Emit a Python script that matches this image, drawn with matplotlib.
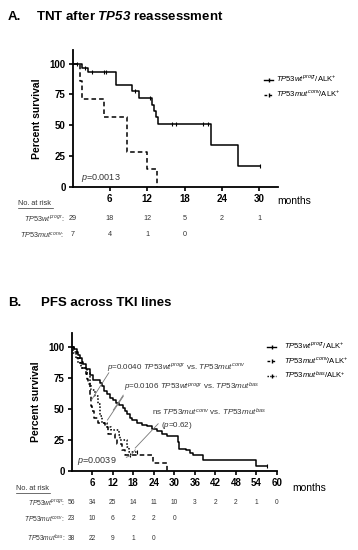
"""Kaplan-Meier curves: TNT after TP53 reassessment and PFS across TKI lines."""
import matplotlib
matplotlib.use("Agg")
import matplotlib.pyplot as plt
import matplotlib.transforms as mtransforms
from matplotlib.lines import Line2D

plt.rcParams['font.family'] = ['Liberation Sans', 'DejaVu Sans']
plt.rcParams['mathtext.fontset'] = 'custom'
plt.rcParams['mathtext.rm'] = 'Liberation Sans'
plt.rcParams['mathtext.it'] = 'Liberation Sans:italic'
plt.rcParams['mathtext.bf'] = 'Liberation Sans:bold'
plt.rcParams['mathtext.bfit'] = 'Liberation Sans:italic:bold'

# ---- panel A data (months, percent survival) ----
a_wt_t = [0, 1.5, 2.5, 7.0, 9.6, 10.7, 12.7, 13.1, 13.4, 13.7, 22.3, 26.6, 30.1]
a_wt_s = [100, 96.5, 93.0, 82.6, 77.4, 72.0, 66.8, 61.6, 56.4, 51.2, 34.1, 17.1, 17.1]
a_wt_cens_t = [0.8, 2.0, 3.2, 5.0, 5.4, 10.0, 12.5, 16.0, 16.7, 21.0, 21.7, 30.1]
a_wt_cens_s = [100, 96.5, 93.0, 93.0, 93.0, 77.4, 72.0, 51.2, 51.2, 51.2, 51.2, 17.1]
a_mut_t = [0, 1.2, 1.6, 5.0, 8.8, 11.9, 13.6]
a_mut_s = [100, 85.7, 71.4, 57.1, 28.6, 14.3, 0]
a_risk_months = [0, 6, 12, 18, 24, 30]
a_risk_wt = [29, 18, 12, 5, 2, 1]
a_risk_mut = [7, 4, 1, 0]

# ---- panel B data ----
b_wt_t = [0, 0.8, 1.5, 2.0, 2.5, 3.0, 3.5, 4.2, 5.5, 6.3, 8.2, 8.8, 9.5, 10.5,
          11.2, 12.0, 13.0, 13.8, 15.0, 15.6, 16.3, 17.0, 17.6, 19.0, 20.5,
          22.0, 23.5, 25.0, 26.5, 28.0, 31.0, 31.5, 33.5, 34.7, 35.6, 38.5,
          54.0, 57.0]
b_wt_s = [100, 98, 96, 93, 91, 88, 86, 82, 77, 73, 71, 68, 64, 62, 59, 57, 55,
          53, 51, 48, 46, 43, 41, 39, 37, 36, 34, 32, 30, 28, 23.5, 18, 16.5,
          14.3, 12.5, 8.5, 4.3, 4.3]
b_conv_t = [0, 0.7, 1.7, 2.4, 3.1, 4.1, 4.5, 4.8, 5.3, 5.6, 6.0, 6.5, 7.8,
            9.8, 10.6, 12.8, 13.3, 14.8, 15.7, 23.8, 27.9]
b_conv_s = [100, 96, 91, 87, 83, 78, 74, 70, 61, 52, 48, 43, 39, 35, 30, 26,
            22, 17, 13, 6.5, 0]
b_bas_t = [0, 0.5, 1.2, 2.0, 2.9, 4.4, 5.3, 5.8, 6.8, 7.8, 8.4, 8.9, 10.4,
           11.4, 13.8, 14.3, 16.2, 16.7, 19.0]
b_bas_s = [100, 95, 91, 87, 83, 79, 69, 65, 60, 54, 44, 38.5, 35.7, 33, 29,
           25, 19.6, 15.6, 15.6]
b_risk_months = [0, 6, 12, 18, 24, 30, 36, 42, 48, 54, 60]
b_risk_wt = [56, 34, 25, 14, 11, 10, 3, 2, 2, 1, 0]
b_risk_conv = [23, 10, 6, 2, 2, 0]
b_risk_bas = [38, 22, 9, 1, 0]

W, H = 358, 550
fig = plt.figure(figsize=(W / 100, H / 100), dpi=100)


def fx(x):
    return x / W


def fy(y):
    return 1 - y / H


def style_axes(ax, xmax, xticks):
    ax.set_xlim(0, xmax)
    ax.set_ylim(0, 111)
    ax.set_yticks([0, 25, 50, 75, 100])
    ax.set_xticks(xticks)
    for s in ('top', 'right'):
        ax.spines[s].set_visible(False)
    for s in ('left', 'bottom'):
        ax.spines[s].set_linewidth(1.3)
    ax.tick_params(width=1.2, length=3, labelsize=7, pad=2)
    for lab in ax.get_xticklabels() + ax.get_yticklabels():
        lab.set_fontweight('bold')
    ax.set_ylabel('Percent survival', fontsize=7.5, fontweight='bold')
    ax.yaxis.set_label_coords(-0.15, 0.5)
    ax.patch.set_alpha(0)


def risk_row(ax, y, label, values, months, size, xr):
    tr = mtransforms.blended_transform_factory(ax.transData, fig.transFigure)
    fig.text(fx(xr), fy(y), label, ha='right', va='center', fontsize=size,
             color='#333333')
    for m, v in zip(months, values):
        ax.text(m, fy(y), str(v), transform=tr, ha='center', va='center',
                fontsize=size, color='#333333', clip_on=False)


def no_at_risk(y, x0, x1):
    fig.text(fx(x0), fy(y), 'No. at risk', ha='left', va='center', fontsize=5.3,
             color='#333333')
    fig.add_artist(Line2D([fx(x0), fx(x1)], [fy(y + 4), fy(y + 4)],
                          color='#333333', lw=0.5))


# ================= Panel A =================
fig.text(fx(8), fy(17), 'A.', fontsize=9.5, fontweight='bold', va='center')
fig.text(fx(36), fy(17), r'TNT after $\mathbfit{TP53}$ reassessment',
         fontsize=9.5, fontweight='bold', va='center')

axA = fig.add_axes([fx(72.5), fy(187), (278 - 72.5) / W, 137 / H])
axA.step(a_wt_t, a_wt_s, where='post', color='black', lw=1.1)
axA.plot(a_wt_cens_t, a_wt_cens_s, ls='none', marker='|', ms=3, mew=0.8,
         color='black')
axA.step(a_mut_t, a_mut_s, where='post', color='black', lw=1.1,
         ls=(0, (3, 2)))
style_axes(axA, 33, [6, 12, 18, 24, 30])
axA.text(1.3, 7, r'$p$=0.0013', fontsize=6.5, ha='left', va='center',
         color='#333333')
fig.text(fx(277), fy(201), 'months', fontsize=7.5, va='center')

hA = [Line2D([], [], color='black', lw=1, marker='|', ms=3),
      Line2D([], [], color='black', lw=1, ls=(0, (2, 1.5)), marker='|', ms=3)]
labA = [r'$\it{TP53wt}^{progr}$/ALK$^{+}$', r'$\it{TP53mut}^{conv}$/ALK$^{+}$']
axA.legend(hA, labA, loc='upper left', bbox_to_anchor=(fx(264), fy(74)),
           bbox_transform=fig.transFigure, frameon=False, fontsize=5.5,
           handlelength=1.2, handletextpad=0.4, labelspacing=0.6,
           borderaxespad=0, borderpad=0, numpoints=1)

no_at_risk(204, 18, 53)
risk_row(axA, 219, r'$\it{TP53wt}^{progr}$:', a_risk_wt, a_risk_months, 5.2, 64)
risk_row(axA, 235, r'$\it{TP53mut}^{conv}$:', a_risk_mut, a_risk_months, 5.2, 64)

# ================= Panel B =================
fig.text(fx(8), fy(303), 'B.', fontsize=9.5, fontweight='bold', va='center')
fig.text(fx(41), fy(303), 'PFS across TKI lines', fontsize=9.5,
         fontweight='bold', va='center')

axB = fig.add_axes([fx(71.5), fy(471), (277 - 71.5) / W, 138 / H])
axB.step(b_wt_t, b_wt_s, where='post', color='black', lw=1.1)
axB.step(b_conv_t, b_conv_s, where='post', color='black', lw=1.1,
         ls=(0, (3, 2)))
axB.step(b_bas_t, b_bas_s, where='post', color='black', lw=1.1,
         ls=(0, (1, 1.2)))
axB.plot([57.0, 17.2, 19.0], [4.3, 13, 15.6], ls='none', marker='|', ms=3,
         mew=0.8, color='black')
style_axes(axB, 60, [6, 12, 18, 24, 30, 36, 42, 48, 54, 60])
fig.text(fx(292), fy(488), 'months', fontsize=7.5, va='center')

ann = dict(fontsize=5.8, color='#333333', ha='left', va='center')
line = dict(color='#777777', lw=0.6)
axB.text(10.5, 83, r'$p$=0.0040 $\it{TP53wt}^{progr}$ vs. $\it{TP53mut}^{conv}$', **ann)
axB.plot([10.9, 5.8], [79, 57], **line)
axB.text(15.2, 67, r'$p$=0.0106 $\it{TP53wt}^{progr}$ vs. $\it{TP53mut}^{bas}$', **ann)
axB.plot([15.1, 12.2], [61, 49], **line)
axB.plot([15.1, 10.5], [60, 41], **line)
axB.text(23.5, 47, r'ns $\it{TP53mut}^{conv}$ vs. $\it{TP53mut}^{bas}$', **ann)
axB.text(26.1, 36.5, r'($p$=0.62)', **ann)
axB.plot([25.3, 18.6], [38, 18.5], **line)
axB.text(1.5, 8.3, r'$p$=0.0039', fontsize=6.5, ha='left', va='center',
         color='#333333')
axB.plot([16.0, 17.3, 18.6], [11, 12.5, 17], **line)

hB = [Line2D([], [], color='black', lw=1, marker='|', ms=3),
      Line2D([], [], color='black', lw=1, ls=(0, (2, 1.5)), marker='|', ms=3),
      Line2D([], [], color='black', lw=1, ls=(0, (1, 1)), marker='|', ms=3)]
labB = [r'$\it{TP53wt}^{progr}$/ALK$^{+}$', r'$\it{TP53mut}^{conv}$/ALK$^{+}$',
        r'$\it{TP53mut}^{bas}$/ALK$^{+}$']
axB.legend(hB, labB, loc='upper left', bbox_to_anchor=(fx(267), fy(341)),
           bbox_transform=fig.transFigure, frameon=False, fontsize=5.5,
           handlelength=1.2, handletextpad=1.0, labelspacing=0.55,
           borderaxespad=0, borderpad=0, numpoints=1)

no_at_risk(489, 16, 50)
risk_row(axB, 503, r'$\it{TP53wt}^{progr}$:', b_risk_wt, b_risk_months, 4.8, 65)
risk_row(axB, 519, r'$\it{TP53mut}^{conv}$:', b_risk_conv, b_risk_months, 4.8, 65)
risk_row(axB, 538, r'$\it{TP53mut}^{bas}$:', b_risk_bas, b_risk_months, 4.8, 65)

fig.savefig('out.png', dpi=100)
